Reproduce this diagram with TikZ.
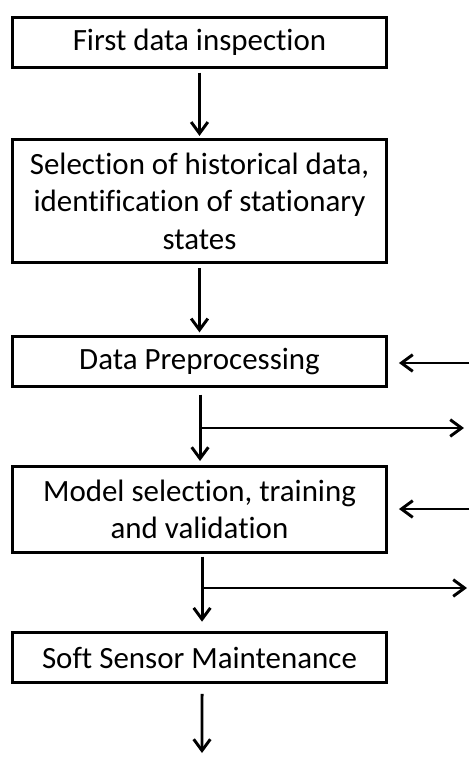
\documentclass[tikz,border=0pt]{standalone}
\usepackage{fontspec}
\setmainfont{Carlito}[Ligatures=NoCommon]
\usetikzlibrary{arrows.meta}
\begin{document}
\begin{tikzpicture}[x=0.75pt,y=-0.75pt,
  stagebox/.style={draw, line width=2.2pt, rectangle, minimum width=281pt,
    align=center, inner sep=0pt, font=\fontsize{23.2}{28.2}\selectfont},
  flow/.style={line width=2.2pt, -{Straight Barb[length=8.5pt,width=12.5pt]}}]
\useasboundingbox (0,0) rectangle (469,758);

% process stages
\node[stagebox, minimum height=37pt] (s1) at (199.5,42.5) {First data inspection};
\node[stagebox, minimum height=92.5pt] (s2) at (199.5,201)
  {Selection of historical data,\\ identification of stationary\\ states};
\node[stagebox, minimum height=37.5pt] (s3) at (199.5,361.5) {Data Preprocessing};
\node[stagebox, minimum height=64.5pt] (s4) at (199.5,509.5)
  {Model selection, training\\ and validation};
\node[stagebox, minimum height=37.5pt] (s5) at (199.5,657.5) {Soft Sensor Maintenance};

% free ends of the side connectors
\coordinate (in3) at (469,363);
\coordinate (in4) at (469,509);
\coordinate (tap3) at (200,428);
\coordinate (out3) at (464,428);
\coordinate (tap4) at (202,588);
\coordinate (out4) at (467,588);
\coordinate (end) at (202,753);

% main flow
\draw[flow] ([yshift=-3pt]s1.south) -- ([yshift=1.5pt]s2.north);
\draw[flow] ([yshift=-3pt]s2.south) -- ([yshift=2pt]s3.north);
\draw[flow] ([yshift=-5pt,xshift=0.4pt]s3.south) -- ([yshift=3pt,xshift=0.4pt]s4.north);
\draw[flow] ([yshift=-2pt,xshift=1.9pt]s4.south) -- ([yshift=7pt,xshift=1.9pt]s5.north);
\draw[flow] ([yshift=-7.5pt,xshift=1.9pt]s5.south) -- (end);

% side inputs and outputs
\draw[flow] (in3) -- ([xshift=8pt]s3.east |- in3);
\draw[flow] (in4) -- ([xshift=8pt]s4.east |- in4);
\draw[flow] ([xshift=-0.75pt]tap3) -- (out3);
\draw[flow] ([xshift=-0.75pt]tap4) -- (out4);
\end{tikzpicture}
\end{document}
